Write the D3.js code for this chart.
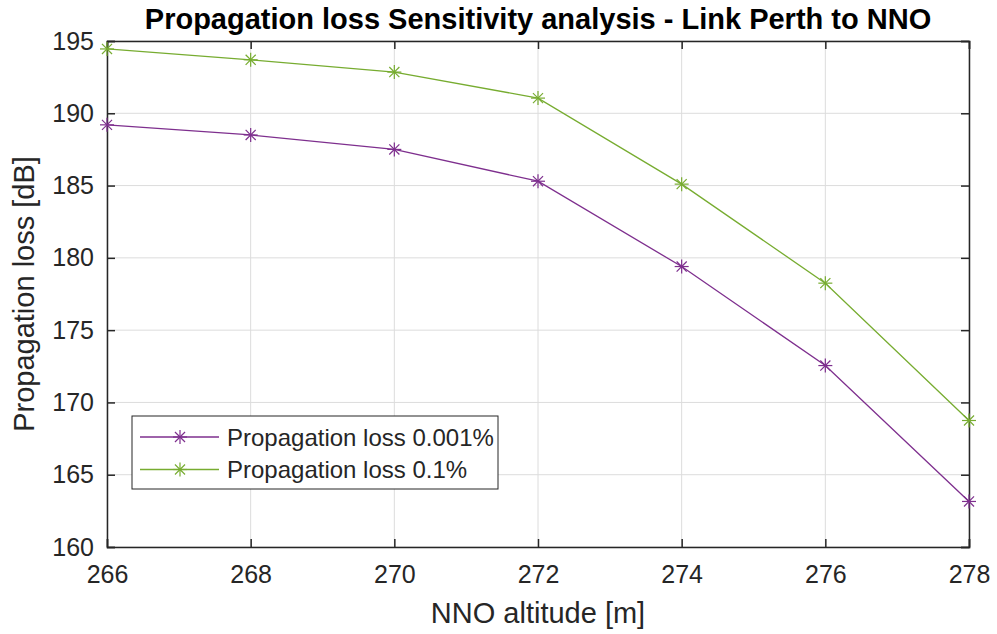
<!DOCTYPE html>
<html>
<head>
<meta charset="utf-8">
<script src="https://cdn.jsdelivr.net/npm/d3@7"></script>
<style>
  body { margin: 0; background: #fff; }
  svg text { font-family: "Liberation Sans", Arial, Helvetica, sans-serif; fill: #262626; }
</style>
</head>
<body>
<div id="chart"></div>
<script>
// values
const altitude = [266, 268, 270, 272, 274, 276, 278];
const loss001 = [189.2, 188.5, 187.5, 185.3, 179.4, 172.55, 163.15];
const loss01 = [194.45, 193.7, 192.85, 191.05, 185.1, 178.25, 168.75];
const seriesNames = ["Propagation loss 0.001%", "Propagation loss 0.1%"];
const seriesColors = ["#7E2F8E", "#77AC30"];
const xTicks = [266, 268, 270, 272, 274, 276, 278];
const yTicks = [160, 165, 170, 175, 180, 185, 190, 195];

const w = 997, h = 634;
const plotLeft = 107, plotRight = 969, plotTop = 41, plotBottom = 547;

const svg = d3.select("#chart").append("svg")
    .attr("width", w)
    .attr("height", h);

const xScale = d3.scaleLinear().domain([266, 278]).range([plotLeft, plotRight]);
const yScale = d3.scaleLinear().domain([160, 195]).range([plotBottom, plotTop]);

// grid
const grid = svg.append("g");
grid.selectAll(".gx").data(xTicks).enter().append("line")
    .attr("x1", d => xScale(d)).attr("x2", d => xScale(d))
    .attr("y1", plotTop).attr("y2", plotBottom)
    .attr("stroke", "#dcdcdc").attr("stroke-width", 1);
grid.selectAll(".gy").data(yTicks).enter().append("line")
    .attr("x1", plotLeft).attr("x2", plotRight)
    .attr("y1", d => yScale(d)).attr("y2", d => yScale(d))
    .attr("stroke", "#dcdcdc").attr("stroke-width", 1);

// axes with inward ticks
const tickLen = 8;
const xAxis = d3.axisBottom(xScale).tickValues(xTicks).tickSize(-tickLen).tickPadding(18).tickFormat(d3.format("d"));
const yAxis = d3.axisLeft(yScale).tickValues(yTicks).tickSize(-tickLen).tickPadding(13).tickFormat(d3.format("d"));
const xAxisTop = d3.axisTop(xScale).tickValues(xTicks).tickSize(-tickLen).tickFormat("");
const yAxisRight = d3.axisRight(yScale).tickValues(yTicks).tickSize(-tickLen).tickFormat("");

function styleAxis(g) {
    g.select(".domain").attr("stroke", "#262626").attr("stroke-width", 1.5);
    g.selectAll(".tick line").attr("stroke", "#262626").attr("stroke-width", 1.5);
    g.selectAll(".tick text").style("font-size", "25px").attr("fill", "#262626")
        .style("font-family", "'Liberation Sans', Arial, sans-serif");
}

svg.append("g").attr("transform", "translate(0," + plotBottom + ")").call(xAxis).call(styleAxis);
svg.append("g").attr("transform", "translate(" + plotLeft + ",0)").call(yAxis).call(styleAxis);
svg.append("g").attr("transform", "translate(0," + plotTop + ")").call(xAxisTop).call(styleAxis);
svg.append("g").attr("transform", "translate(" + plotRight + ",0)").call(yAxisRight).call(styleAxis);

// asterisk marker
function star(sel, x, y, color) {
    const r = 7;
    const g = sel.append("g").attr("transform", "translate(" + x + "," + y + ")")
        .attr("stroke", color).attr("stroke-width", 1.2);
    g.append("line").attr("x1", -r).attr("x2", r).attr("y1", 0).attr("y2", 0);
    g.append("line").attr("x1", 0).attr("x2", 0).attr("y1", -r).attr("y2", r);
    g.append("line").attr("x1", -r * 0.72).attr("x2", r * 0.72).attr("y1", -r * 0.72).attr("y2", r * 0.72);
    g.append("line").attr("x1", -r * 0.72).attr("x2", r * 0.72).attr("y1", r * 0.72).attr("y2", -r * 0.72);
}

const series = [loss001, loss01];
const line = d3.line()
    .x((d, i) => xScale(altitude[i]))
    .y(d => yScale(d));

series.forEach(function(vals, k) {
    svg.append("path")
        .datum(vals)
        .attr("d", line)
        .attr("fill", "none")
        .attr("stroke", seriesColors[k])
        .attr("stroke-width", 1.3);
    vals.forEach(function(v, i) {
        star(svg, xScale(altitude[i]), yScale(v), seriesColors[k]);
    });
});

// legend
const legend = svg.append("g");
legend.append("rect")
    .attr("x", 132).attr("y", 416)
    .attr("width", 366).attr("height", 73)
    .attr("fill", "#fff")
    .attr("stroke", "#262626").attr("stroke-width", 1);
seriesNames.forEach(function(name, k) {
    const ly = 437 + k * 32.5;
    legend.append("line")
        .attr("x1", 140).attr("x2", 219)
        .attr("y1", ly).attr("y2", ly)
        .attr("stroke", seriesColors[k]).attr("stroke-width", 1.3);
    star(legend, 180, ly, seriesColors[k]);
    legend.append("text")
        .attr("x", 227).attr("y", ly + 8.5)
        .style("font-size", "24px")
        .text(name);
});

// title and labels
svg.append("text")
    .attr("x", (plotLeft + plotRight) / 2).attr("y", 29)
    .attr("text-anchor", "middle")
    .style("font-size", "29px").style("font-weight", "bold")
    .style("fill", "#000")
    .text("Propagation loss Sensitivity analysis - Link Perth to NNO");

svg.append("text")
    .attr("x", (plotLeft + plotRight) / 2).attr("y", 623)
    .attr("text-anchor", "middle")
    .style("font-size", "29px")
    .text("NNO altitude [m]");

svg.append("text")
    .attr("transform", "translate(34," + ((plotTop + plotBottom) / 2) + ") rotate(-90)")
    .attr("text-anchor", "middle")
    .style("font-size", "29px")
    .text("Propagation loss [dB]");
</script>
</body>
</html>
